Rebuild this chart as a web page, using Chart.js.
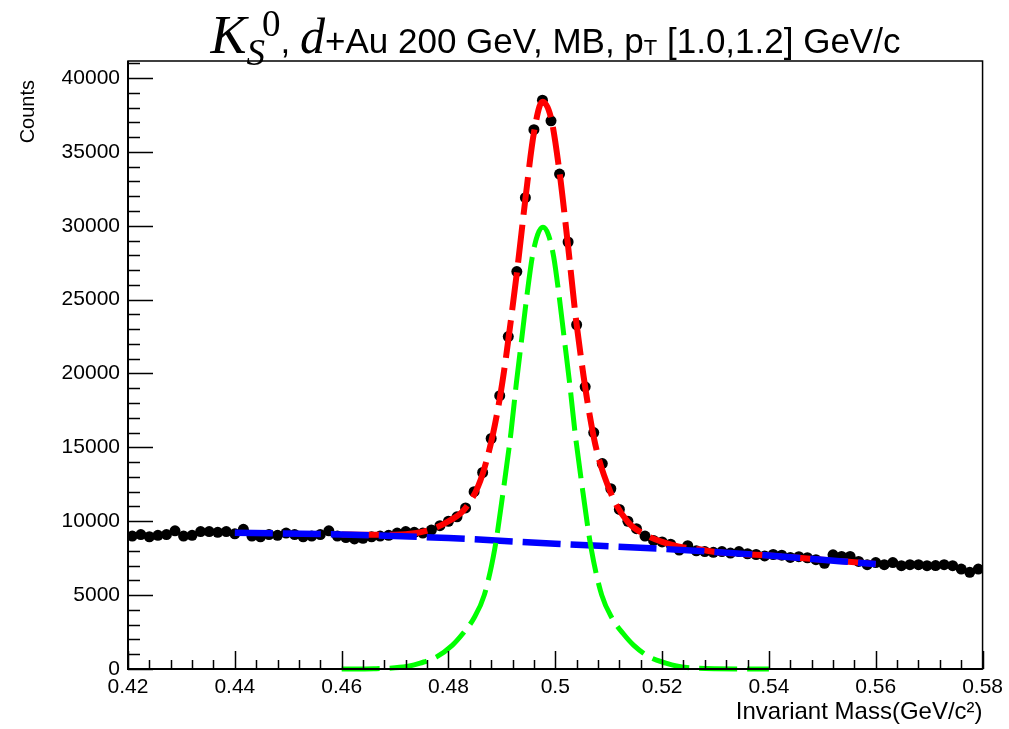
<!DOCTYPE html>
<html>
<head>
<meta charset="utf-8">
<script src="https://cdn.jsdelivr.net/npm/chart.js@4.4.0/dist/chart.umd.min.js"></script>
<style>
  html, body { margin: 0; padding: 0; background: #fff; }
  #wrap { position: relative; width: 1009px; height: 729px; }
  #titulo {
    position: absolute; top: 4px; left: 128px; width: 855px;
    text-align: center; white-space: nowrap;
    font-family: "Liberation Sans", Arial, sans-serif; font-size: 35px; color: #000;
  }
  .serif { font-family: "Liberation Serif", "Times New Roman", serif; font-style: italic; }
  .grande { font-size: 54px; }
  .sub { font-size: 37px; position: relative; top: 12px; }
  .sup { font-size: 37px; position: relative; top: -17px; font-style: normal; margin-left: -3px; }
  .pequeno { font-size: 22px; position: relative; top: 2px; }
</style>
</head>
<body>
<div id="wrap">
  <canvas id="grafico" width="1009" height="729"></canvas>
  <div id="titulo"><span class="serif grande">K</span><span class="serif sub">S</span><span class="serif sup">0</span>, <span class="serif grande" style="font-size:50px">d</span>+Au 200 GeV, MB, p<span class="pequeno">T</span> [1.0,1.2] GeV/c</div>
</div>
<script>
// centros dos bins (100 bins de 0.42 a 0.58)
const massa = [
  0.4208, 0.4224, 0.4240, 0.4256, 0.4272, 0.4288, 0.4304, 0.4320, 0.4336, 0.4352,
  0.4368, 0.4384, 0.4400, 0.4416, 0.4432, 0.4448, 0.4464, 0.4480, 0.4496, 0.4512,
  0.4528, 0.4544, 0.4560, 0.4576, 0.4592, 0.4608, 0.4624, 0.4640, 0.4656, 0.4672,
  0.4688, 0.4704, 0.4720, 0.4736, 0.4752, 0.4768, 0.4784, 0.4800, 0.4816, 0.4832,
  0.4848, 0.4864, 0.4880, 0.4896, 0.4912, 0.4928, 0.4944, 0.4960, 0.4976, 0.4992,
  0.5008, 0.5024, 0.5040, 0.5056, 0.5072, 0.5088, 0.5104, 0.5120, 0.5136, 0.5152,
  0.5168, 0.5184, 0.5200, 0.5216, 0.5232, 0.5248, 0.5264, 0.5280, 0.5296, 0.5312,
  0.5328, 0.5344, 0.5360, 0.5376, 0.5392, 0.5408, 0.5424, 0.5440, 0.5456, 0.5472,
  0.5488, 0.5504, 0.5520, 0.5536, 0.5552, 0.5568, 0.5584, 0.5600, 0.5616, 0.5632,
  0.5648, 0.5664, 0.5680, 0.5696, 0.5712, 0.5728, 0.5744, 0.5760, 0.5776, 0.5792
];
const contagens = [
  9000, 9100, 8950, 9050, 9100, 9350, 9000, 9050, 9300, 9300,
  9250, 9300, 9150, 9450, 9000, 8950, 9100, 9050, 9200, 9100,
  8950, 9000, 9100, 9350, 9000, 8900, 8800, 8850, 8950, 9000,
  9050, 9200, 9300, 9250, 9200, 9400, 9700, 10000, 10300, 10900,
  12000, 13300, 15600, 18500, 22500, 26900, 31900, 36500, 38500, 37100,
  33500, 28900, 23300, 19100, 16000, 13900, 12200, 10800, 10000, 9500,
  9000, 8700, 8600, 8450, 8050, 8350, 8000, 7950, 7900, 7950,
  7850, 7950, 7800, 7750, 7650, 7750, 7700, 7550, 7600, 7530,
  7400, 7150, 7730, 7620, 7620, 7280, 7060, 7200, 7060, 7200,
  6990, 7060, 7060, 6990, 7000, 7060, 6990, 6760, 6540, 6760
];

// ajuste total (vermelho)
const totalX = [0.460, 0.465, 0.470, 0.474, 0.4768, 0.480, 0.4832, 0.4864, 0.4896, 0.4928, 0.4944, 0.4960, 0.4976,
                 0.4992, 0.5008, 0.5024, 0.5040, 0.5072, 0.5104, 0.5136, 0.5168, 0.520, 0.523, 0.527, 0.530, 0.540, 0.550, 0.560];
const totalY = [9110, 9080, 9080, 9200, 9450, 10000, 10900, 13200, 18300, 26800, 31800, 36300, 38400,
                37300, 33600, 28600, 23300, 15700, 11900, 9950, 9100, 8600, 8300, 8100, 7920, 7680, 7400, 7100];

// fundo (azul)
const fundoX = [0.44, 0.46, 0.48, 0.50, 0.52, 0.54, 0.56];
const fundoY = [9220, 9100, 8860, 8480, 8130, 7680, 7100];

// sinal (verde)
const sinalX = [0.460, 0.466, 0.470, 0.4727, 0.4747, 0.4777, 0.4807, 0.4827, 0.4847, 0.4867, 0.4887, 0.4902, 0.4917,
                0.4927, 0.4937, 0.4947, 0.4957, 0.4967, 0.4977, 0.4987, 0.4997, 0.5007, 0.5017, 0.5027, 0.5037, 0.5052,
                0.5067, 0.5087, 0.5107, 0.5127, 0.5147, 0.5177, 0.5207, 0.5227, 0.5254, 0.530, 0.540];
const sinalY = [0, 20, 80, 200, 400, 800, 1600, 2400, 3400, 5000, 8200, 11900, 16000,
                19300, 22300, 25300, 27900, 29400, 29900, 29400, 27900, 25300, 22300, 19300, 16000, 11900,
                8200, 5000, 3400, 2400, 1600, 800, 400, 200, 80, 20, 0];

const ticksX = [0.42, 0.44, 0.46, 0.48, 0.50, 0.52, 0.54, 0.56, 0.58];
const ticksY = [0, 5000, 10000, 15000, 20000, 25000, 30000, 35000, 40000];

const FONTE = '"Liberation Sans", Arial, sans-serif';

function pares(xs, ys) {
    return xs.map((x, i) => ({ x: x, y: ys[i] }));
}

function curva(xs, ys, cor, largura, ordem) {
    return {
        data: pares(xs, ys),
        showLine: true,
        borderColor: cor,
        borderWidth: largura,
        borderDash: [38, 10],
        borderCapStyle: 'butt',
        cubicInterpolationMode: 'monotone',
        pointRadius: 0,
        clip: false,
        order: ordem
    };
}

// marcas internas estilo ROOT + moldura + titulo do eixo Y
const marcasRoot = {
    id: 'marcasRoot',
    afterDraw(chart) {
        const { ctx, chartArea: a, scales: { x, y } } = chart;
        ctx.save();
        ctx.strokeStyle = '#000';
        ctx.lineWidth = 1.5;
        ctx.strokeRect(a.left, a.top, a.right - a.left, a.bottom - a.top);
        ctx.lineWidth = 2;
        ctx.beginPath();
        ctx.moveTo(a.left, a.top); ctx.lineTo(a.left, a.bottom); ctx.lineTo(a.right, a.bottom);
        ctx.stroke();

        ctx.lineWidth = 1.5;
        ctx.beginPath();
        for (let i = 0; i <= 40; i++) {
            const px = Math.round(x.getPixelForValue(0.42 + i * 0.004)) + 0.5;
            const len = i % 5 === 0 ? 18 : 9;
            ctx.moveTo(px, a.bottom); ctx.lineTo(px, a.bottom - len);
        }
        for (let v = 0; v <= 41000; v += 1000) {
            const py = Math.round(y.getPixelForValue(v)) + 0.5;
            const len = v % 5000 === 0 ? 25 : 12;
            ctx.moveTo(a.left, py); ctx.lineTo(a.left + len, py);
        }
        ctx.stroke();

        ctx.fillStyle = '#000';
        ctx.font = '20px ' + FONTE;
        ctx.translate(28, 80);
        ctx.rotate(-Math.PI / 2);
        ctx.textAlign = 'right';
        ctx.textBaseline = 'middle';
        ctx.fillText('Counts', 0, 0);
        ctx.restore();
    }
};

new Chart(document.getElementById('grafico'), {
    type: 'scatter',
    data: {
        datasets: [
            {
                data: pares(massa, contagens),
                backgroundColor: '#000',
                borderColor: '#000',
                pointRadius: 5.5,
                pointBorderWidth: 0,
                order: 4
            },
            curva(totalX, totalY, '#ff0000', 6, 3),
            curva(fundoX, fundoY, '#0000ff', 6.5, 2),
            curva(sinalX, sinalY, '#00ff00', 5, 1)
        ]
    },
    options: {
        responsive: false,
        animation: false,
        devicePixelRatio: 1,
        layout: { padding: { top: 61, right: 26, left: 0, bottom: 0 } },
        plugins: { legend: { display: false }, tooltip: { enabled: false } },
        scales: {
            x: {
                type: 'linear', min: 0.42, max: 0.58,
                afterFit: s => { s.height = 60; },
                afterBuildTicks: s => { s.ticks = ticksX.map(v => ({ value: v })); },
                grid: { display: false, drawTicks: false },
                border: { display: false },
                ticks: {
                    padding: 6, color: '#000', font: { family: FONTE, size: 21 },
                    callback: v => String(parseFloat(v.toFixed(2)))
                },
                title: {
                    display: true, text: 'Invariant Mass(GeV/c²)', align: 'end', color: '#000',
                    font: { family: FONTE, size: 24 }, padding: { top: 0, bottom: 2 }
                }
            },
            y: {
                type: 'linear', min: 0, max: 41150,
                afterFit: s => { s.width = 128; },
                afterBuildTicks: s => { s.ticks = ticksY.map(v => ({ value: v })); },
                grid: { display: false, drawTicks: false },
                border: { display: false },
                ticks: {
                    padding: 8, color: '#000', font: { family: FONTE, size: 21 },
                    callback: v => String(v)
                }
            }
        }
    },
    plugins: [marcasRoot]
});
</script>
</body>
</html>
